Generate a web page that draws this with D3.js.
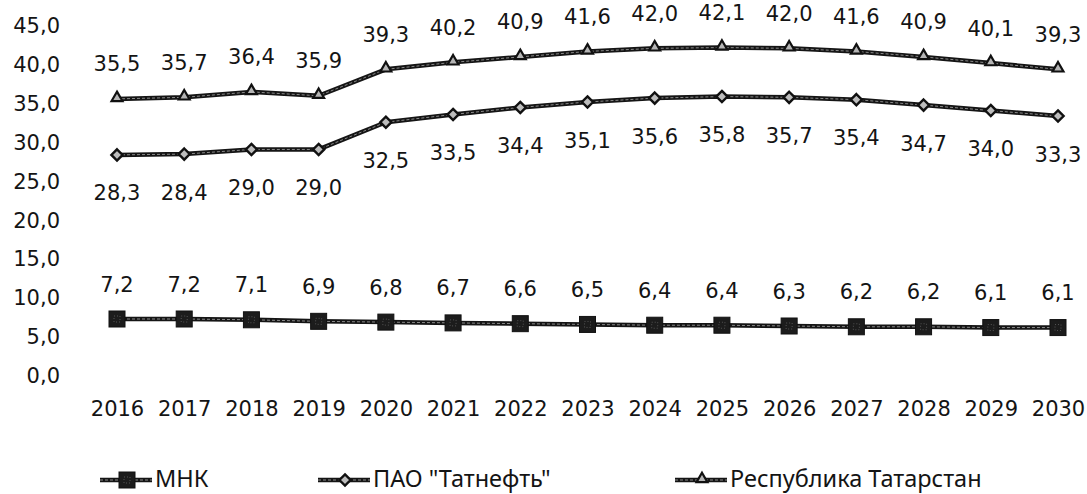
<!DOCTYPE html>
<html>
<head>
<meta charset="utf-8">
<script src="https://cdn.jsdelivr.net/npm/d3@7/dist/d3.min.js"></script>
<style>
  html, body { margin: 0; padding: 0; background: #fff; }
  svg { display: block; }
  .num { font-family: "DejaVu Sans", Verdana, sans-serif; font-size: 21px; fill: #141414; }
  .leg { font-family: "Noto Sans", "Open Sans", sans-serif; font-size: 23.5px; fill: #141414; }
</style>
</head>
<body>
<svg id="chart" width="1087" height="494"></svg>
<script>
// Years on the category axis
const years = ["2016","2017","2018","2019","2020","2021","2022","2023","2024","2025","2026","2027","2028","2029","2030"];

// Series values
const mnk      = [7.2, 7.2, 7.1, 6.9, 6.8, 6.7, 6.6, 6.5, 6.4, 6.4, 6.3, 6.2, 6.2, 6.1, 6.1];
const tatneft  = [28.3, 28.4, 29.0, 29.0, 32.5, 33.5, 34.4, 35.1, 35.6, 35.8, 35.7, 35.4, 34.7, 34.0, 33.3];
const republic = [35.5, 35.7, 36.4, 35.9, 39.3, 40.2, 40.9, 41.6, 42.0, 42.1, 42.0, 41.6, 40.9, 40.1, 39.3];

// Value axis ticks
const yTicks = [0, 5, 10, 15, 20, 25, 30, 35, 40, 45];

// Legend names
const seriesNames = ["МНК", "ПАО \"Татнефть\"", "Республика Татарстан"];

const svg = d3.select("#chart");
const fmt = v => d3.format(".1f")(v).replace(".", ",");

const x = d3.scalePoint().domain(years).range([117, 1058]);
const y = d3.scaleLinear().domain([0, 45]).range([375, 25]);

// Y axis: labels only
const yAxis = d3.axisLeft(y).tickValues(yTicks).tickSize(0).tickPadding(0).tickFormat(fmt);
svg.append("g").attr("transform", "translate(60,0)").call(yAxis)
  .call(g => g.select(".domain").remove())
  .call(g => g.selectAll("text").attr("class", "num").attr("font-size", null).attr("font-family", null)
        .attr("dy", "0.36em").attr("x", 0));

// X axis: labels only
const xAxis = d3.axisBottom(x).tickSize(0).tickPadding(0);
svg.append("g").attr("transform", "translate(0,408)").call(xAxis)
  .call(g => g.select(".domain").remove())
  .call(g => g.selectAll("text").attr("class", "num").attr("font-size", null).attr("font-family", null)
        .attr("dy", "0.36em").attr("y", 0));

const series = [
  { name: seriesNames[0], values: mnk,      marker: "square",   labelDy: -35 },
  { name: seriesNames[1], values: tatneft,  marker: "diamond",  labelDy: 38 },
  { name: seriesNames[2], values: republic, marker: "triangle", labelDy: -35 }
];

const line = d3.line().x((d, i) => x(years[i])).y(d => y(d));

function drawMarker(g, type) {
  if (type === "square") {
    g.append("rect").attr("x", -8).attr("y", -8).attr("width", 16).attr("height", 16)
      .attr("fill", "#1c1c1c").attr("stroke", "#111").attr("stroke-width", 1);
    g.append("rect").attr("x", -3).attr("y", -3).attr("width", 6).attr("height", 6)
      .attr("fill", "none").attr("stroke", "#555").attr("stroke-width", 1).attr("stroke-dasharray", "1 2");
  } else if (type === "diamond") {
    g.append("path").attr("d", d3.symbol().type(d3.symbolDiamond2).size(80)())
      .attr("fill", "#bdbdbd").attr("stroke", "#111").attr("stroke-width", 2.4);
  } else {
    g.append("path").attr("d", d3.symbol().type(d3.symbolTriangle2).size(85)()).attr("transform", "translate(0,-1)")
      .attr("fill", "#b5b5b5").attr("stroke", "#111").attr("stroke-width", 2.2);
  }
}

series.forEach(s => {
  const g = svg.append("g");
  g.append("path").datum(s.values).attr("d", line)
    .attr("fill", "none").attr("stroke", "#151515").attr("stroke-width", 4.5).attr("stroke-linejoin", "round");
  g.append("path").datum(s.values).attr("d", line)
    .attr("fill", "none").attr("stroke", "#8a8a8a").attr("stroke-width", 1).attr("stroke-dasharray", "3 2");
  s.values.forEach((v, i) => {
    const m = g.append("g").attr("transform", `translate(${x(years[i])},${y(v)})`);
    drawMarker(m, s.marker);
  });
  g.selectAll("text.lbl").data(s.values).join("text")
    .attr("class", "num lbl")
    .attr("x", (d, i) => x(years[i]))
    .attr("y", d => y(d) + s.labelDy)
    .attr("dy", "0.36em")
    .attr("text-anchor", "middle")
    .text(fmt);
});

// Legend
const legendX = [100, 318, 675];
const legendY = 480;
series.forEach((s, i) => {
  const g = svg.append("g").attr("transform", `translate(${legendX[i]},${legendY})`);
  g.append("line").attr("x1", 0).attr("x2", 52).attr("y1", 0).attr("y2", 0)
    .attr("stroke", "#151515").attr("stroke-width", 4.5);
  g.append("line").attr("x1", 0).attr("x2", 52).attr("y1", 0).attr("y2", 0)
    .attr("stroke", "#8a8a8a").attr("stroke-width", 1).attr("stroke-dasharray", "3 2");
  const m = g.append("g").attr("transform", "translate(27,0)");
  drawMarker(m, s.marker);
  g.append("text").attr("class", "leg").attr("x", 55).attr("y", 7).text(s.name);
});
</script>
</body>
</html>
